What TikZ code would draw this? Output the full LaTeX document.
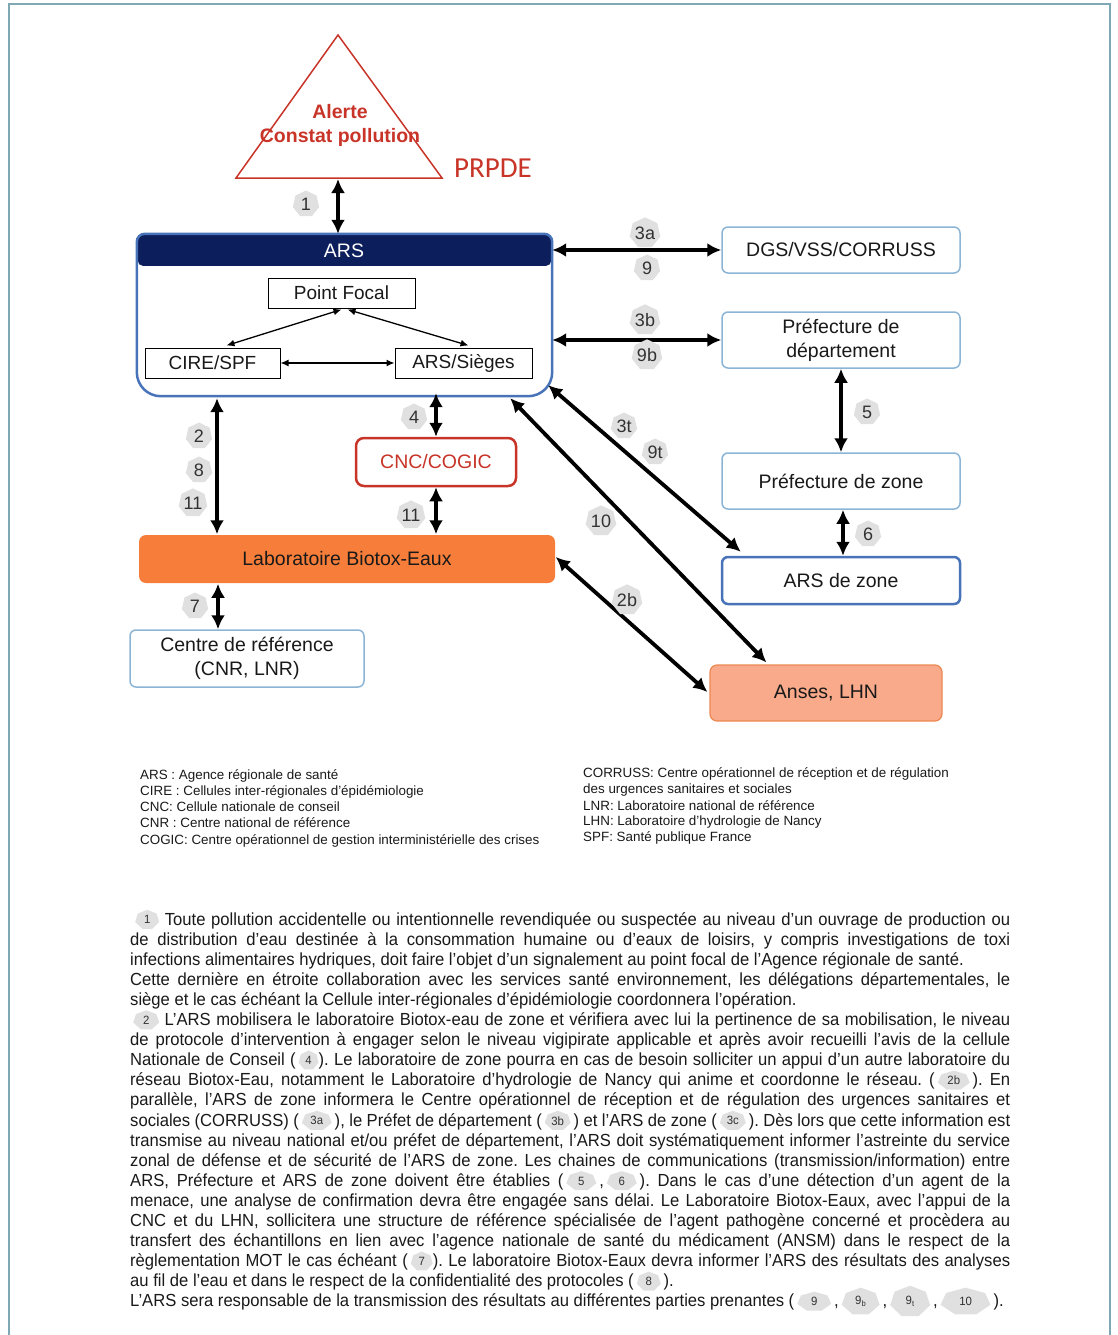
\documentclass[tikz,border=0pt]{standalone}
\usepackage{fontspec}
\setmainfont{Liberation Sans}
\newfontfamily\narrowfont[FakeStretch=0.95]{Liberation Sans}
\newfontfamily\calfont{Carlito}
\usetikzlibrary{arrows.meta,shapes.geometric,calc}
\definecolor{navy}{RGB}{12,30,92}
\definecolor{arsblue}{RGB}{72,115,185}
\definecolor{lightblue}{RGB}{140,180,212}
\definecolor{redc}{RGB}{200,52,40}
\definecolor{orangec}{RGB}{246,126,58}
\definecolor{salmon}{RGB}{249,170,138}
\definecolor{salmonline}{RGB}{236,136,82}
\definecolor{badgegray}{RGB}{224,224,224}
\definecolor{badgetext}{RGB}{50,50,50}
\definecolor{framecol}{RGB}{125,168,180}
\definecolor{txt}{RGB}{25,25,25}
% inline badge: half width, half height, text
\newcommand\ibadgecore[3]{\tikz[baseline=-0.3em]{\fill[badgegray,x=1pt,y=1pt] (0,#2) -- (#1*0.78,#2*0.62) -- (#1,-#2*0.22) -- (#1*0.43,-#2*0.9) -- (-#1*0.43,-#2*0.9) -- (-#1,-#2*0.22) -- (-#1*0.78,#2*0.62) -- cycle; \node[anchor=center,inner sep=0pt,text=badgetext,font=\fontsize{12}{12}\selectfont] at (0,0) {#3};}}
\newcommand\ibadge[2][11]{\ibadgecore{#1}{10}{#2}}
\frenchspacing
\begin{document}
\begin{tikzpicture}[x=1pt,y=-1pt,
  lbox/.style={draw=lightblue, line width=1.5pt, rounded corners=6pt, fill=white, text=txt, font=\fontsize{19.5}{24}\selectfont, align=center, inner sep=0pt},
  innerbox/.style={draw=black, line width=1pt, fill=white, text=txt, font=\fontsize{19}{22}\selectfont, inner sep=0pt},
  dbl/.style={line width=3.8pt, {Latex[length=14pt,width=14pt]}-{Latex[length=14pt,width=14pt]}},
  thinarr/.style={line width=1.3pt, {Latex[length=8pt,width=7pt]}-{Latex[length=8pt,width=7pt]}},
  badge/.style={regular polygon, regular polygon sides=7, minimum size=27pt, fill=badgegray, inner sep=0pt, text=badgetext, font=\fontsize{18}{18}\selectfont},
  legend/.style={anchor=base west, inner sep=0pt, text=txt, font=\fontsize{13.4}{15}\selectfont},
  parline/.style={anchor=base west, inner sep=0pt, text=txt, font=\narrowfont\fontsize{17.5}{20}\selectfont}
]
\useasboundingbox (0,0) rectangle (1118,1335);
% page frame
\draw[framecol, line width=2pt] (8.5,4.5) rectangle (1110,1345);

% ---- triangle ----
\draw[redc, line width=1.5pt, line join=miter] (338,35) -- (442,178) -- (236,178) -- cycle;
\coordinate (tribase) at (338,179);
\node[text=redc, font=\bfseries\fontsize{19.5}{24}\selectfont, align=center, inner sep=0pt] (tritext) at (340,125) {Alerte\\Constat pollution};
\node[text=redc, font=\calfont\fontsize{29}{30}\selectfont, inner sep=0pt] (prpde) at (493,168) {PRPDE};

% ---- ARS box ----
\node[minimum width=415pt, minimum height=162pt, inner sep=0pt] (ars) at (344.5,315) {};
\fill[navy, rounded corners=5pt] ([xshift=1pt,yshift=-1pt]ars.north west) rectangle ([xshift=-1pt,yshift=-32pt]ars.north east);
\node[text=white, font=\fontsize{19.5}{22}\selectfont, inner sep=0pt] (arshead) at (344,251) {ARS};
\draw[arsblue, line width=2.5pt, rounded corners=8pt] (ars.west) -- (ars.north west) -- (ars.north east) -- (ars.east);
\draw[arsblue, line width=2.5pt, rounded corners=24pt] (ars.east) -- (ars.south east) -- (ars.south west) -- (ars.west);

\node[innerbox, minimum width=147pt, minimum height=30pt] (pf) at (341.5,293) {Point Focal};
\node[innerbox, minimum width=135pt, minimum height=30pt] (cire) at (212.5,363) {CIRE/SPF};
\node[innerbox, minimum width=137pt, minimum height=30pt] (sieges) at (463.5,363) {ARS/Sièges};
\draw[thinarr] ($(pf.south)+(0,1)$) -- ($(cire.north)+(14,-2)$);
\draw[thinarr] ($(pf.south)+(6,1)$) -- ($(sieges.north)+(5,-2)$);
\draw[thinarr] (cire.east) -- (sieges.west);

% ---- right column ----
\node[lbox, minimum width=238pt, minimum height=46pt] (dgs) at (841,250) {DGS/VSS/CORRUSS};
\node[lbox, minimum width=238pt, minimum height=56pt] (prefdep) at (841,340) {Préfecture de\\département};
\node[lbox, minimum width=238pt, minimum height=56pt] (prefzone) at (841,481) {Préfecture de zone};
\node[lbox, draw=arsblue, line width=2.5pt, minimum width=238pt, minimum height=47pt] (ardz) at (841,580.5) {ARS de zone};

% ---- middle / bottom ----
\node[lbox, draw=redc, line width=2.5pt, rounded corners=8pt, text=redc, minimum width=160pt, minimum height=48pt] (cnc) at (436,462) {CNC/COGIC};
\node[lbox, draw=none, fill=orangec, rounded corners=7pt, minimum width=416pt, minimum height=48pt] (labo) at (347,559) {Laboratoire Biotox-Eaux};
\node[lbox, minimum width=234pt, minimum height=57pt] (cref) at (247,658.5) {Centre de référence\\(CNR, LNR)};
\node[lbox, draw=salmonline, line width=1.2pt, fill=salmon, rounded corners=7pt, minimum width=232pt, minimum height=56pt] (anses) at (826,693) {Anses, LHN};

% ---- connectors ----
\coordinate (x217) at (217,0);
\coordinate (x218) at (218,0);
\draw[dbl] (tribase) -- (ars.north -| tribase);
\draw[dbl] (ars.east |- dgs.west) -- (dgs.west);
\draw[dbl] (ars.east |- prefdep.west) -- (prefdep.west);
\draw[dbl] (prefdep.south) -- (prefzone.north);
\draw[dbl] ($(prefzone.south)+(2,0)$) -- ($(ardz.north)+(2,0)$);
\draw[dbl] ($(ars.south -| cnc.north)+(0,-3)$) -- (cnc.north);
\draw[dbl] (cnc.south) -- (labo.north -| cnc.south);
\draw[dbl] ($(ars.south -| x217)+(0,2)$) -- (labo.north -| x217);
\draw[dbl] (labo.south -| x218) -- (cref.north -| x218);
\draw[dbl] ($(ars.south east)+(-4,-11)$) -- ($(ardz.north west)+(20,-4)$);
\draw[dbl] ($(ars.south east)+(-42,2)$) -- ($(anses.north west)+(57,-2)$);
\draw[dbl] ($(labo.east)+(0,-2)$) -- ($(anses.west)+(-2,-1)$);

% ---- badges ----
\node[badge] (b1) at (306,204) {1};
\node[badge] (b3a) at (645,233) {3a};
\node[badge] (b9) at (647,268) {9};
\node[badge] (b3b) at (645,320) {3b};
\node[badge] (b9b) at (647,355) {9b};
\node[badge] (b5) at (867,412) {5};
\node[badge] (b6) at (868,534) {6};
\node[badge] (b4) at (414,417) {4};
\node[badge] (b11r) at (411,515) {11};
\node[badge] (b2) at (199,436) {2};
\node[badge] (b8) at (199,470) {8};
\node[badge] (b11l) at (193,503) {11};
\node[badge] (b7) at (195,606) {7};
\node[badge] (b3t) at (624,426) {3t};
\node[badge] (b9t) at (655,452) {9t};
\node[badge] (b10) at (601,521) {10};
\node[badge] (b2b) at (627,600) {2b};

% ---- legend ----
\node[legend] (lg1) at (140,779) {ARS : Agence régionale de santé};
\node[legend] (lg2) at (140,795) {CIRE : Cellules inter-régionales d'épidémiologie};
\node[legend] (lg3) at (140,811) {CNC: Cellule nationale de conseil};
\node[legend] (lg4) at (140,827) {CNR : Centre national de référence};
\node[legend] (lg5) at (140,844) {COGIC: Centre opérationnel de gestion interministérielle des crises};
\node[legend] (lg6) at (583,777) {CORRUSS: Centre opérationnel de réception et de régulation};
\node[legend] (lg7) at (583,793) {des urgences sanitaires et sociales};
\node[legend] (lg8) at (583,810) {LNR: Laboratoire national de référence};
\node[legend] (lg9) at (583,825) {LHN: Laboratoire d’hydrologie de Nancy};
\node[legend] (lg10) at (583,841) {SPF: Santé publique France};

% ---- paragraph ----
\node[parline] (p1) at (135,925) {\makebox[875pt][s]{\ibadge[12]{1} Toute pollution accidentelle ou intentionnelle revendiquée ou suspectée au niveau d’un ouvrage de production ou}};
\node[parline] (p2) at (130,945.1) {\makebox[880pt][s]{de distribution d’eau destinée à la consommation humaine ou d’eaux de loisirs, y compris investigations de toxi}};
\node[parline] (p3) at (130,965.2) {infections alimentaires hydriques, doit faire l’objet d’un signalement au point focal de l’Agence régionale de santé.};
\node[parline] (p4) at (130,985.3) {\makebox[880pt][s]{Cette dernière en étroite collaboration avec les services santé environnement, les délégations départementales, le}};
\node[parline] (p5) at (130,1005.4) {siège et le cas échéant la Cellule inter-régionales d’épidémiologie coordonnera l’opération.};
\node[parline] (p6) at (133,1025.5) {\makebox[877pt][s]{\ibadge[13]{2} L’ARS mobilisera le laboratoire Biotox-eau de zone et vérifiera avec lui la pertinence de sa mobilisation, le niveau}};
\node[parline] (p7) at (130,1045.6) {\makebox[880pt][s]{de protocole d’intervention à engager selon le niveau vigipirate applicable et après avoir recueilli l’avis de la cellule}};
\node[parline] (p8) at (130,1065.7) {\makebox[880pt][s]{Nationale de Conseil (\,\ibadge[10]{4}). Le laboratoire de zone pourra en cas de besoin solliciter un appui d’un autre laboratoire du}};
\node[parline] (p9) at (130,1085.8) {\makebox[880pt][s]{réseau Biotox-Eau, notamment le Laboratoire d’hydrologie de Nancy qui anime et coordonne le réseau. (\,\ibadge[16]{2b}\,). En}};
\node[parline] (p10) at (130,1105.9) {\makebox[880pt][s]{parallèle, l’ARS de zone informera le Centre opérationnel de réception et de régulation des urgences sanitaires et}};
\node[parline] (p11) at (130,1126) {\makebox[880pt][s]{sociales (CORRUSS) (\,\ibadge[15]{3a}\,), le Préfet de département (\,\ibadge[13]{3b}\,) et l’ARS de zone (\,\ibadge[13]{3c}\,). Dès lors que cette information est}};
\node[parline] (p12) at (130,1146.1) {\makebox[880pt][s]{transmise au niveau national et/ou préfet de département, l’ARS doit systématiquement informer l’astreinte du service}};
\node[parline] (p13) at (130,1166.2) {\makebox[880pt][s]{zonal de défense et de sécurité de l’ARS de zone. Les chaines de communications (transmission/information) entre}};
\node[parline] (p14) at (130,1186.3) {\makebox[880pt][s]{ARS, Préfecture et ARS de zone doivent être établies (\,\ibadge[15]{5}\,,\,\ibadge[15]{6}\,). Dans le cas d’une détection d’un agent de la}};
\node[parline] (p15) at (130,1206.4) {\makebox[880pt][s]{menace, une analyse de confirmation devra être engagée sans délai. Le Laboratoire Biotox-Eaux, avec l’appui de la}};
\node[parline] (p16) at (130,1226.5) {\makebox[880pt][s]{CNC et du LHN, sollicitera une structure de référence spécialisée de l’agent pathogène concerné et procèdera au}};
\node[parline] (p17) at (130,1246.6) {\makebox[880pt][s]{transfert des échantillons en lien avec l’agence nationale de santé du médicament (ANSM) dans le respect de la}};
\node[parline] (p18) at (130,1266.7) {\makebox[880pt][s]{règlementation MOT le cas échéant (\,\ibadge{7}). Le laboratoire Biotox-Eaux devra informer l’ARS des résultats des analyses}};
\node[parline] (p19) at (130,1286.8) {au fil de l’eau et dans le respect de la confidentialité des protocoles (\,\ibadge[12]{8}\,).};
\node[parline] (p20) at (130,1306.9) {L’ARS sera responsable de la transmission des résultats au différentes parties prenantes (\,\ibadge[17]{9}\,,\,\ibadgecore{19}{14}{9\textsubscript{b}}\,,\,\ibadgecore{20}{16}{9\textsubscript{t}}\,,\,\ibadgecore{25}{14}{10}\,).};
\end{tikzpicture}
\end{document}
